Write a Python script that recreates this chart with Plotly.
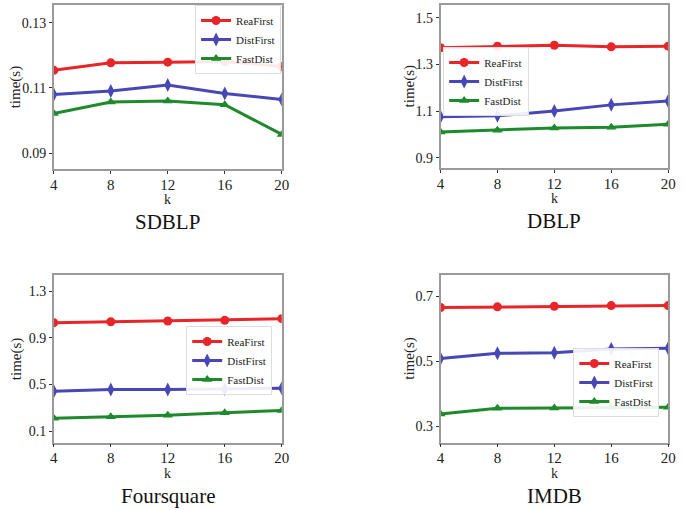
import plotly.graph_objects as go

k = [4, 8, 12, 16, 20]
series_names = ["ReaFirst", "DistFirst", "FastDist"]

sdblp_rea = [0.1154, 0.1177, 0.1179, 0.1181, 0.1166]
sdblp_dist = [0.1080, 0.1091, 0.1109, 0.1083, 0.1065]
sdblp_fast = [0.1022, 0.1057, 0.1060, 0.1049, 0.0958]

dblp_rea = [1.372, 1.379, 1.383, 1.376, 1.379]
dblp_dist = [1.076, 1.080, 1.101, 1.127, 1.144]
dblp_fast = [1.011, 1.018, 1.028, 1.031, 1.044]

four_rea = [1.029, 1.037, 1.043, 1.049, 1.063]
four_dist = [0.440, 0.457, 0.457, 0.460, 0.466]
four_fast = [0.209, 0.223, 0.235, 0.257, 0.277]

imdb_rea = [0.665, 0.667, 0.669, 0.671, 0.671]
imdb_dist = [0.508, 0.524, 0.526, 0.537, 0.540]
imdb_fast = [0.337, 0.355, 0.356, 0.358, 0.358]

panel_titles = ["SDBLP", "DBLP", "Foursquare", "IMDB"]
y_ticks = [[0.09, 0.11, 0.13], [0.9, 1.1, 1.3, 1.5], [0.1, 0.5, 0.9, 1.3], [0.3, 0.5, 0.7]]
y_ticktext = [["0.09", "0.11", "0.13"], ["0.9", "1.1", "1.3", "1.5"],
              ["0.1", "0.5", "0.9", "1.3"], ["0.3", "0.5", "0.7"]]
y_ranges = [[0.0852, 0.1355], [0.856, 1.557], [0.0, 1.44], [0.249, 0.766]]

data = [
    [sdblp_rea, sdblp_dist, sdblp_fast],
    [dblp_rea, dblp_dist, dblp_fast],
    [four_rea, four_dist, four_fast],
    [imdb_rea, imdb_dist, imdb_fast],
]

colors = ["#e8262a", "#4747b5", "#1f8a2c"]
symbols = ["circle", "diamond-tall", "triangle-up"]

W, H = 684, 510
# plot boxes in pixels: (left, right, top, bottom)
boxes = [(50.7, 282.7, 4.7, 169), (444.3, 676, 4.7, 168),
         (50.7, 282.7, 274.7, 442.7), (444.3, 676, 274.7, 442.7)]
legend_pos = [(282, 5), (447, 47), (273, 326), (667, 348)]
legend_anchor = ["right", "left", "right", "right"]
ylabel_offset = [39, 32, 38, 31]

SERIF = "Liberation Serif, Times New Roman, serif"
fig = go.Figure()
layout = dict(width=W, height=H, margin=dict(l=0, r=0, t=0, b=0),
              paper_bgcolor="white", plot_bgcolor="white", annotations=[])

for i in range(4):
    ax = "" if i == 0 else str(i + 1)
    leg = "legend" if i == 0 else "legend" + str(i + 1)
    for s in range(3):
        fig.add_trace(go.Scatter(
            x=k, y=data[i][s], name=series_names[s], mode="lines+markers",
            line=dict(color=colors[s], width=3),
            marker=dict(symbol=symbols[s], size=9 if s != 1 else 10, color=colors[s]),
            xaxis="x" + ax, yaxis="y" + ax, legend=leg,
        ))
    l, r, t, b = boxes[i]
    axis_common = dict(showline=True, mirror=True, linecolor="#9a9a9a", linewidth=1.5,
                       showgrid=False, zeroline=False, ticks="outside", ticklen=3,
                       tickcolor="#333333")
    layout["xaxis" + ax] = dict(axis_common, domain=[l / W, r / W], anchor="y" + ax,
                                range=[4, 20], tickvals=k, ticklabelstandoff=-2,
                                tickfont=dict(family=SERIF, size=15, color="#222"))
    layout["yaxis" + ax] = dict(axis_common, domain=[1 - b / H, 1 - t / H], anchor="x" + ax,
                                range=y_ranges[i], tickvals=y_ticks[i], ticktext=y_ticktext[i],
                                tickfont=dict(family=SERIF, size=14, color="#222"))
    lx, ly = legend_pos[i]
    layout[leg] = dict(x=lx / W, y=1 - ly / H, xanchor=legend_anchor[i], yanchor="top",
                       bgcolor="rgba(255,255,255,0.9)", bordercolor="#dddddd", borderwidth=1,
                       font=dict(family=SERIF, size=11, color="#222"),
                       tracegroupgap=0, itemwidth=30)
    cx = (l + r) / 2
    layout["annotations"] += [
        dict(text="k", x=cx / W, y=1 - (b + 31) / H, xref="paper", yref="paper",
             showarrow=False, font=dict(family=SERIF, size=14, color="#222"),
             xanchor="center", yanchor="middle"),
        dict(text="time(s)", x=(l - ylabel_offset[i]) / W, y=1 - ((t + b) / 2) / H,
             xref="paper", yref="paper",
             showarrow=False, textangle=-90, font=dict(family=SERIF, size=15, color="#222"),
             xanchor="center", yanchor="middle"),
        dict(text=panel_titles[i], x=cx / W, y=1 - (b + 53) / H, xref="paper", yref="paper",
             showarrow=False, font=dict(family=SERIF, size=21, color="#111"),
             xanchor="center", yanchor="middle"),
    ]

fig.update_layout(**layout)
fig.write_html("out.html", config={"displayModeBar": False},
               post_script="document.body.style.margin='0';document.body.style.overflow='hidden';")
